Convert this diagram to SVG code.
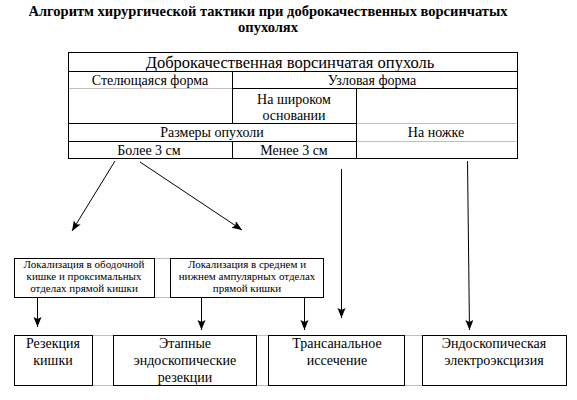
<svg xmlns="http://www.w3.org/2000/svg" width="577" height="400" viewBox="0 0 577 400">
<defs>
<style>
.ln{stroke:#000;stroke-width:1;fill:none;shape-rendering:crispEdges}
.gr{stroke:#c0c0c0;stroke-width:1;fill:none;shape-rendering:crispEdges}
.bx{stroke:#000;stroke-width:1;fill:#fff;shape-rendering:crispEdges}
text{font-family:'Liberation Serif','DejaVu Serif',serif;fill:#000;text-anchor:middle}
.ttl{font-size:14.5px;font-weight:bold}
.big{font-size:16.5px}
.md{font-size:14px}
.sm{font-size:11px}
.ar{stroke:#000;stroke-width:1;fill:none}
</style>
<marker id="ah" markerUnits="userSpaceOnUse" markerWidth="12" markerHeight="10" refX="10" refY="4" orient="auto">
<path d="M0,0 L10,4 L0,8 L2,4 Z" fill="#000"/>
</marker>
</defs>
<rect width="577" height="400" fill="#fff"/>
<g id="title" font-family="Liberation Serif, serif">
<text class="ttl" x="268" y="16">Алгоритм хирургической тактики при доброкачественных ворсинчатых</text>
<text class="ttl" x="268" y="32">опухолях</text>
</g>
<g id="table" font-family="Liberation Serif, serif">
<rect class="ln" x="68.5" y="52.5" width="449" height="106"/>
<line class="ln" x1="68.5" y1="71.5" x2="517.5" y2="71.5"/>
<line class="gr" x1="69" y1="88.5" x2="232" y2="88.5"/>
<line class="ln" x1="232.5" y1="88.5" x2="517.5" y2="88.5"/>
<line class="ln" x1="68.5" y1="123.5" x2="356.5" y2="123.5"/>
<line class="gr" x1="357" y1="123.5" x2="517" y2="123.5"/>
<line class="ln" x1="68.5" y1="141.5" x2="356.5" y2="141.5"/>
<line class="gr" x1="357" y1="141.5" x2="517" y2="141.5"/>
<line class="ln" x1="232.5" y1="71.5" x2="232.5" y2="123.5"/>
<line class="ln" x1="232.5" y1="141.5" x2="232.5" y2="158.5"/>
<line class="ln" x1="356.5" y1="88.5" x2="356.5" y2="158.5"/>
<text class="big" x="290" y="68">Доброкачественная ворсинчатая опухоль</text>
<text class="md" x="150" y="85">Стелющаяся форма</text>
<text class="md" x="372" y="85">Узловая форма</text>
<text class="md" x="294" y="104">На широком</text>
<text class="md" x="294" y="120">основании</text>
<text class="md" x="212" y="137">Размеры опухоли</text>
<text class="md" x="436" y="137">На ножке</text>
<text class="md" x="149" y="155">Более 3 см</text>
<text class="md" x="294" y="155">Менее 3 см</text>
</g>
<g id="loc1">
<rect class="bx" x="14.5" y="258.5" width="140" height="39"/>
<text class="sm" x="84" y="268">Локализация в ободочной</text>
<text class="sm" x="84" y="280">кишке и проксимальных</text>
<text class="sm" x="84" y="292">отделах прямой кишки</text>
</g>
<g id="loc2">
<rect class="bx" x="170.5" y="258.5" width="153" height="39"/>
<text class="sm" x="247" y="268">Локализация в среднем и</text>
<text class="sm" x="247" y="280">нижнем ампулярных отделах</text>
<text class="sm" x="247" y="292">прямой кишки</text>
</g>
<g id="gridlines">
<line class="gr" x1="155" y1="258.5" x2="170" y2="258.5"/>
<line class="gr" x1="155" y1="297.5" x2="170" y2="297.5"/>
<line class="gr" x1="93" y1="335.5" x2="113" y2="335.5"/>
<line class="gr" x1="93" y1="385.5" x2="113" y2="385.5"/>
<line class="gr" x1="257" y1="335.5" x2="268" y2="335.5"/>
<line class="gr" x1="257" y1="385.5" x2="268" y2="385.5"/>
<line class="gr" x1="405" y1="335.5" x2="422" y2="335.5"/>
<line class="gr" x1="405" y1="385.5" x2="422" y2="385.5"/>
</g>
<g id="res1">
<rect class="bx" x="14.5" y="335.5" width="78" height="50"/>
<text class="md" x="53" y="348">Резекция</text>
<text class="md" x="53" y="365">кишки</text>
</g>
<g id="res2">
<rect class="bx" x="113.5" y="335.5" width="143" height="50"/>
<text class="md" x="185" y="348">Этапные</text>
<text class="md" x="185" y="365">эндоскопические</text>
<text class="md" x="185" y="382">резекции</text>
</g>
<g id="res3">
<rect class="bx" x="268.5" y="335.5" width="136" height="50"/>
<text class="md" x="337" y="348">Трансанальное</text>
<text class="md" x="337" y="365">иссечение</text>
</g>
<g id="res4">
<rect class="bx" x="422.5" y="335.5" width="144" height="50"/>
<text class="md" x="494" y="348">Эндоскопическая</text>
<text class="md" x="494" y="365">электроэксцизия</text>
</g>
<g id="connectors">
<line class="ar" x1="115" y1="161" x2="72" y2="231" marker-end="url(#ah)"/>
<line class="ar" x1="140" y1="162" x2="242" y2="230" marker-end="url(#ah)"/>
<line class="ar" x1="37.5" y1="298" x2="37.5" y2="327" marker-end="url(#ah)"/>
<line class="ar" x1="201.5" y1="298" x2="201.5" y2="330" marker-end="url(#ah)"/>
<line class="ar" x1="304.5" y1="298" x2="304.5" y2="330" marker-end="url(#ah)"/>
<line class="ar" x1="341.5" y1="169" x2="341.5" y2="318" marker-end="url(#ah)"/>
<line class="ar" x1="467.5" y1="161" x2="469.5" y2="330" marker-end="url(#ah)"/>
</g>
</svg>
